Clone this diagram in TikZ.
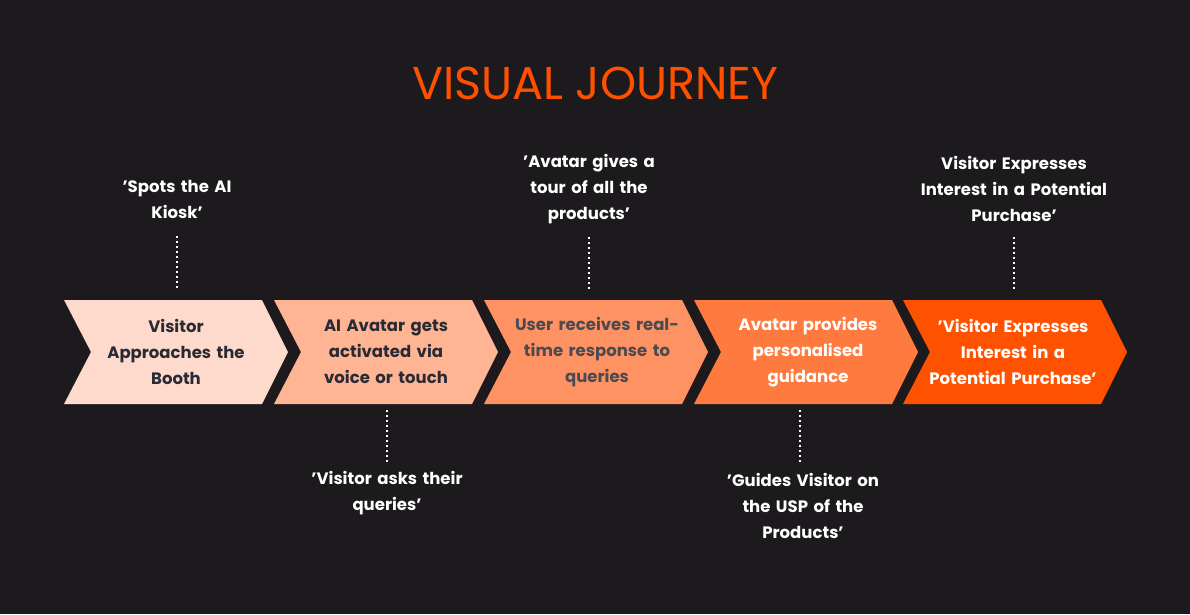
\documentclass[tikz,border=0pt]{standalone}
\usepackage{fontspec}
\setmainfont{Poppins}
\usetikzlibrary{positioning, calc}
\definecolor{bgDark}{HTML}{1C1A1D}
\definecolor{titleOrange}{HTML}{FF5000}
\definecolor{stepOne}{HTML}{FDDACB}
\definecolor{stepTwo}{HTML}{FFB593}
\definecolor{stepThree}{HTML}{FF9262}
\definecolor{stepFour}{HTML}{FF7A3E}
\definecolor{stepFive}{HTML}{FF5200}
\definecolor{inkDark}{HTML}{2A2A35}
% chevron: #1 x of left edge, #2 fill colour
\newcommand{\DrawChevron}[2]{
    \begin{scope}[shift={(#1,0)}]
        \fill[#2] (0,300) -- (198,300) -- (224,352) -- (198,404) -- (0,404) -- (27,352) -- cycle;
    \end{scope}
}
\tikzset{
    stepText/.style={align=center, font=\fontsize{16.5}{26}\selectfont\bfseries, text width=170pt},
    noteText/.style={align=center, font=\fontsize{16.5}{26}\selectfont\bfseries, text=white, text width=190pt},
    dotLine/.style={white, line width=1.6pt, dash pattern=on 2pt off 3pt},
    titleText/.style={font=\fontsize{46}{50}\selectfont, text=titleOrange}
}
\begin{document}
\begin{tikzpicture}[x=1pt, y=-1pt]
    \fill[bgDark] (0,0) rectangle (1190,614);
    \useasboundingbox (0,0) rectangle (1190,614);
    \node[titleText] (title) at (595,83) {VISUAL JOURNEY};
    % chevrons
    \DrawChevron{64}{stepOne} \DrawChevron{274}{stepTwo} \DrawChevron{484}{stepThree}
    \DrawChevron{694}{stepFour} \DrawChevron{903}{stepFive}
    \node[stepText, text=inkDark] (step1) at (176,352) {Visitor\\Approaches the\\Booth};
    \node[stepText, text=inkDark] (step2) at (386,352) {AI Avatar gets\\activated via\\voice or touch};
    \node[stepText, text=inkDark!85] (step3) at (597,352) {User receives real-\\time response to\\queries};
    \node[stepText, text=white] (step4) at (808,352) {Avatar provides\\personalised\\guidance};
    \node[stepText, text=white] (step5) at (1013,352) {'Visitor Expresses\\Interest in a\\Potential Purchase'};
    % notes
    \node[noteText] (note1) at (177,199) {'Spots the AI\\Kiosk'};
    \node[noteText] (note3) at (589,189) {'Avatar gives a\\tour of all the\\products'};
    \node[noteText] (note5) at (1014,189) {Visitor Expresses\\Interest in a Potential\\Purchase'};
    \node[noteText] (note2) at (387,493) {'Visitor asks their\\queries'};
    \node[noteText] (note4) at (803,506) {'Guides Visitor on\\the USP of the\\Products'};
    \coordinate (tip1) at (177,290); \coordinate (tip3) at (589,290); \coordinate (tip5) at (1014,290);
    \coordinate (tip2) at (387,408); \coordinate (tip4) at (800,408);
    \coordinate (end1) at (177,236); \coordinate (end3) at (589,237); \coordinate (end5) at (1014,237);
    \coordinate (end2) at (387,462); \coordinate (end4) at (800,462);
    \foreach \i in {1,...,5} \draw[dotLine] (end\i) -- (tip\i);
\end{tikzpicture}
\end{document}
